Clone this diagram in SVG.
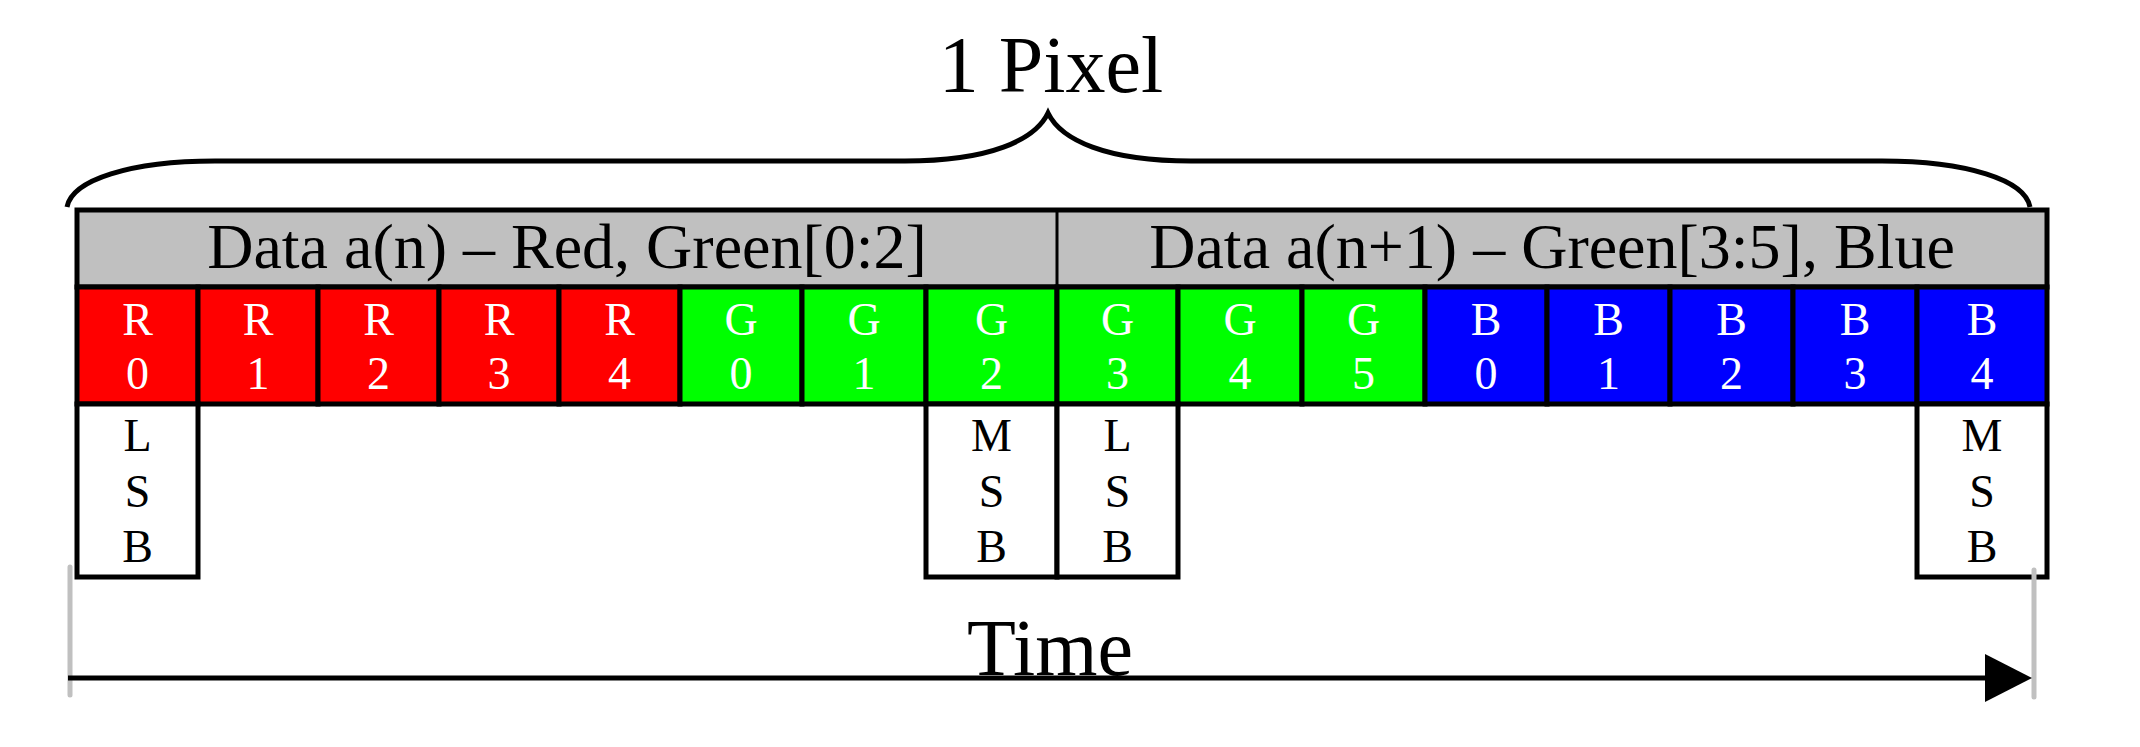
<svg xmlns="http://www.w3.org/2000/svg" width="2140" height="747" viewBox="0 0 2140 747">
<defs>
<style>
.t{font-family:"Liberation Serif","Times New Roman",serif;text-anchor:middle}
.big{font-size:80px;fill:#000}
.hd{font-size:64px;fill:#000}
.cl{font-size:46px;fill:#fff}
.sb{font-size:46px;fill:#000}
.cell{stroke:#000;stroke-width:5}
.r{fill:#ff0000}.g{fill:#00ff00}.b{fill:#0000ff}
.box{fill:#fff;stroke:#000;stroke-width:5}
.hdr{fill:#c0c0c0;stroke:#000;stroke-width:5}
.gray{stroke:#c0c0c0;stroke-width:5;stroke-linecap:round}
</style>
</defs>
<rect width="2140" height="747" fill="#fff"/>
<g id="pixel-label"><text class="t big" x="1051" y="92">1 Pixel</text></g>
<g id="header">
<rect class="hdr" x="77" y="210" width="1970" height="77"/>
<line x1="1057" y1="210" x2="1057" y2="287" stroke="#000" stroke-width="3"/>
<text class="t hd" x="567" y="268">Data a(n) – Red, Green[0:2]</text>
<text class="t hd" x="1552" y="268">Data a(n+1) – Green[3:5], Blue</text>
</g>
<g id="cells">
<g id="R0"><rect class="cell r" x="77" y="287" width="121" height="117"/><text class="t cl" x="137.5" y="335">R</text><text class="t cl" x="137.5" y="389">0</text></g>
<g id="R1"><rect class="cell r" x="198" y="287" width="120" height="117"/><text class="t cl" x="258" y="335">R</text><text class="t cl" x="258" y="389">1</text></g>
<g id="R2"><rect class="cell r" x="318" y="287" width="121" height="117"/><text class="t cl" x="378.5" y="335">R</text><text class="t cl" x="378.5" y="389">2</text></g>
<g id="R3"><rect class="cell r" x="439" y="287" width="120" height="117"/><text class="t cl" x="499" y="335">R</text><text class="t cl" x="499" y="389">3</text></g>
<g id="R4"><rect class="cell r" x="559" y="287" width="121" height="117"/><text class="t cl" x="619.5" y="335">R</text><text class="t cl" x="619.5" y="389">4</text></g>
<g id="G0"><rect class="cell g" x="680" y="287" width="122" height="117"/><text class="t cl" x="741" y="335">G</text><text class="t cl" x="741" y="389">0</text></g>
<g id="G1"><rect class="cell g" x="802" y="287" width="124" height="117"/><text class="t cl" x="864" y="335">G</text><text class="t cl" x="864" y="389">1</text></g>
<g id="G2"><rect class="cell g" x="926" y="287" width="131" height="117"/><text class="t cl" x="991.5" y="335">G</text><text class="t cl" x="991.5" y="389">2</text></g>
<g id="G3"><rect class="cell g" x="1057" y="287" width="121" height="117"/><text class="t cl" x="1117.5" y="335">G</text><text class="t cl" x="1117.5" y="389">3</text></g>
<g id="G4"><rect class="cell g" x="1178" y="287" width="124" height="117"/><text class="t cl" x="1240" y="335">G</text><text class="t cl" x="1240" y="389">4</text></g>
<g id="G5"><rect class="cell g" x="1302" y="287" width="123" height="117"/><text class="t cl" x="1363.5" y="335">G</text><text class="t cl" x="1363.5" y="389">5</text></g>
<g id="B0"><rect class="cell b" x="1425" y="287" width="122" height="117"/><text class="t cl" x="1486" y="335">B</text><text class="t cl" x="1486" y="389">0</text></g>
<g id="B1"><rect class="cell b" x="1547" y="287" width="123" height="117"/><text class="t cl" x="1608.5" y="335">B</text><text class="t cl" x="1608.5" y="389">1</text></g>
<g id="B2"><rect class="cell b" x="1670" y="287" width="123" height="117"/><text class="t cl" x="1731.5" y="335">B</text><text class="t cl" x="1731.5" y="389">2</text></g>
<g id="B3"><rect class="cell b" x="1793" y="287" width="124" height="117"/><text class="t cl" x="1855" y="335">B</text><text class="t cl" x="1855" y="389">3</text></g>
<g id="B4"><rect class="cell b" x="1917" y="287" width="130" height="117"/><text class="t cl" x="1982" y="335">B</text><text class="t cl" x="1982" y="389">4</text></g>
</g>
<g id="bit-markers">
<g id="lsb1"><rect class="box" x="77" y="404" width="121" height="173"/><text class="t sb" x="137.5" y="451">L</text><text class="t sb" x="137.5" y="507">S</text><text class="t sb" x="137.5" y="562">B</text></g>
<g id="msb1"><rect class="box" x="926" y="404" width="131" height="173"/><text class="t sb" x="991.5" y="451">M</text><text class="t sb" x="991.5" y="507">S</text><text class="t sb" x="991.5" y="562">B</text></g>
<g id="lsb2"><rect class="box" x="1057" y="404" width="121" height="173"/><text class="t sb" x="1117.5" y="451">L</text><text class="t sb" x="1117.5" y="507">S</text><text class="t sb" x="1117.5" y="562">B</text></g>
<g id="msb2"><rect class="box" x="1917" y="404" width="130" height="173"/><text class="t sb" x="1982" y="451">M</text><text class="t sb" x="1982" y="507">S</text><text class="t sb" x="1982" y="562">B</text></g>
</g>
<g id="time-label"><text class="t big" x="1050" y="675">Time</text></g>
<g id="connectors">
<path d="M 67 207 C 72 180 130 161 215 161 L 905 161 C 990 161 1035 140 1048 113 C 1061 140 1106 161 1191 161 L 1882 161 C 1967 161 2025 180 2030 207" fill="none" stroke="#000" stroke-width="5"/>
<line class="gray" x1="70" y1="567" x2="70" y2="695"/>
<line class="gray" x1="2034" y1="570" x2="2034" y2="697"/>
<line x1="68" y1="678" x2="1990" y2="678" stroke="#000" stroke-width="5"/>
<polygon points="1985,654 2032,678 1985,702" fill="#000"/>
</g>
</svg>
